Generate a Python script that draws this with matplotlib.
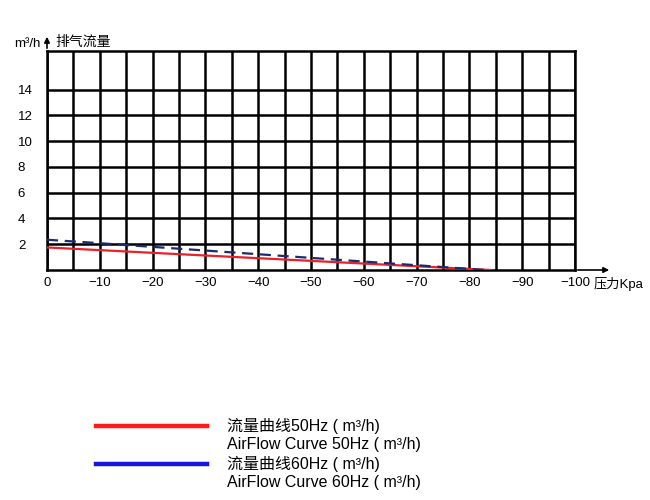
import matplotlib
matplotlib.use("Agg")
import matplotlib.pyplot as plt
from matplotlib.lines import Line2D

plt.rcParams['font.family'] = ['Liberation Sans', 'Noto Sans CJK SC', 'DejaVu Sans']

# Data
pressure_50 = [0, -84]
flow_50 = [1.75, 0.0]
pressure_60 = [0, -10, -83]
flow_60 = [2.35, 2.08, 0.0]

x_ticks = [0, -10, -20, -30, -40, -50, -60, -70, -80, -90, -100]
y_ticks = [2, 4, 6, 8, 10, 12, 14]
legend_cn = ["流量曲线50Hz ( m³/h)", "流量曲线60Hz ( m³/h)"]
legend_en = ["AirFlow Curve 50Hz ( m³/h)", "AirFlow Curve 60Hz ( m³/h)"]

fig = plt.figure(figsize=(6.5, 5), dpi=100)
ax = fig.add_axes([47/650, 1-270/500, (575-47)/650, (270-51)/500])

ax.plot(pressure_50, flow_50, color='#e8212b', lw=1.6, zorder=3)
ax.plot(pressure_60, flow_60, color='#1c2a6e', lw=1.6, ls=(0, (5, 3)), zorder=3)

ax.set_xlim(0, -100)
ax.set_ylim(0, 17)
ax.set_xticks(x_ticks)
ax.set_xticks([v - 5 for v in x_ticks[:-1]], minor=True)
ax.set_yticks(y_ticks)
ax.set_xticklabels(['0'] + ['\u2212%d' % abs(v) for v in x_ticks[1:]])
ax.tick_params(which='both', length=0, labelsize=9.5, pad=5)
ax.tick_params(axis='y', pad=21)
for lab in ax.get_yticklabels():
    lab.set_horizontalalignment('left')
ax.grid(True, which='both', color='black', lw=1.8)
ax.set_axisbelow(False)
for s in ax.spines.values():
    s.set_color('black')
    s.set_linewidth(1.8)

# axis arrows
ax.annotate('', xy=(0, 1 + 17/219), xytext=(0, 1), xycoords='axes fraction',
            arrowprops=dict(arrowstyle='-|>', color='black', lw=1.2, mutation_scale=8))
ax.annotate('', xy=(1 + 37/528, 0), xytext=(1, 0), xycoords='axes fraction',
            arrowprops=dict(arrowstyle='-|>', color='black', lw=1.2, mutation_scale=8))

fig.text(14/650, 1-44/500, "m³/h", fontsize=9.5, va='center', ha='left')
fig.text(55/650, 1-42/500, "排气流量", fontsize=10, va='center', ha='left')
fig.text(594/650, 1-284/500, "压力Kpa", fontsize=9.5, va='center', ha='left')

# legend
fig.add_artist(Line2D([96/650, 207/650], [1-426/500, 1-426/500], color='#ff1a1a', lw=3.2))
fig.add_artist(Line2D([96/650, 207/650], [1-464/500, 1-464/500], color='#1414e0', lw=3.2))
for i, yy in enumerate([426, 464]):
    fig.text(227/650, 1-yy/500, legend_cn[i], fontsize=11.5, va='center', ha='left')
    fig.text(227/650, 1-(yy+18)/500, legend_en[i], fontsize=11.5, va='center', ha='left')

fig.savefig('out.png', dpi=100)
